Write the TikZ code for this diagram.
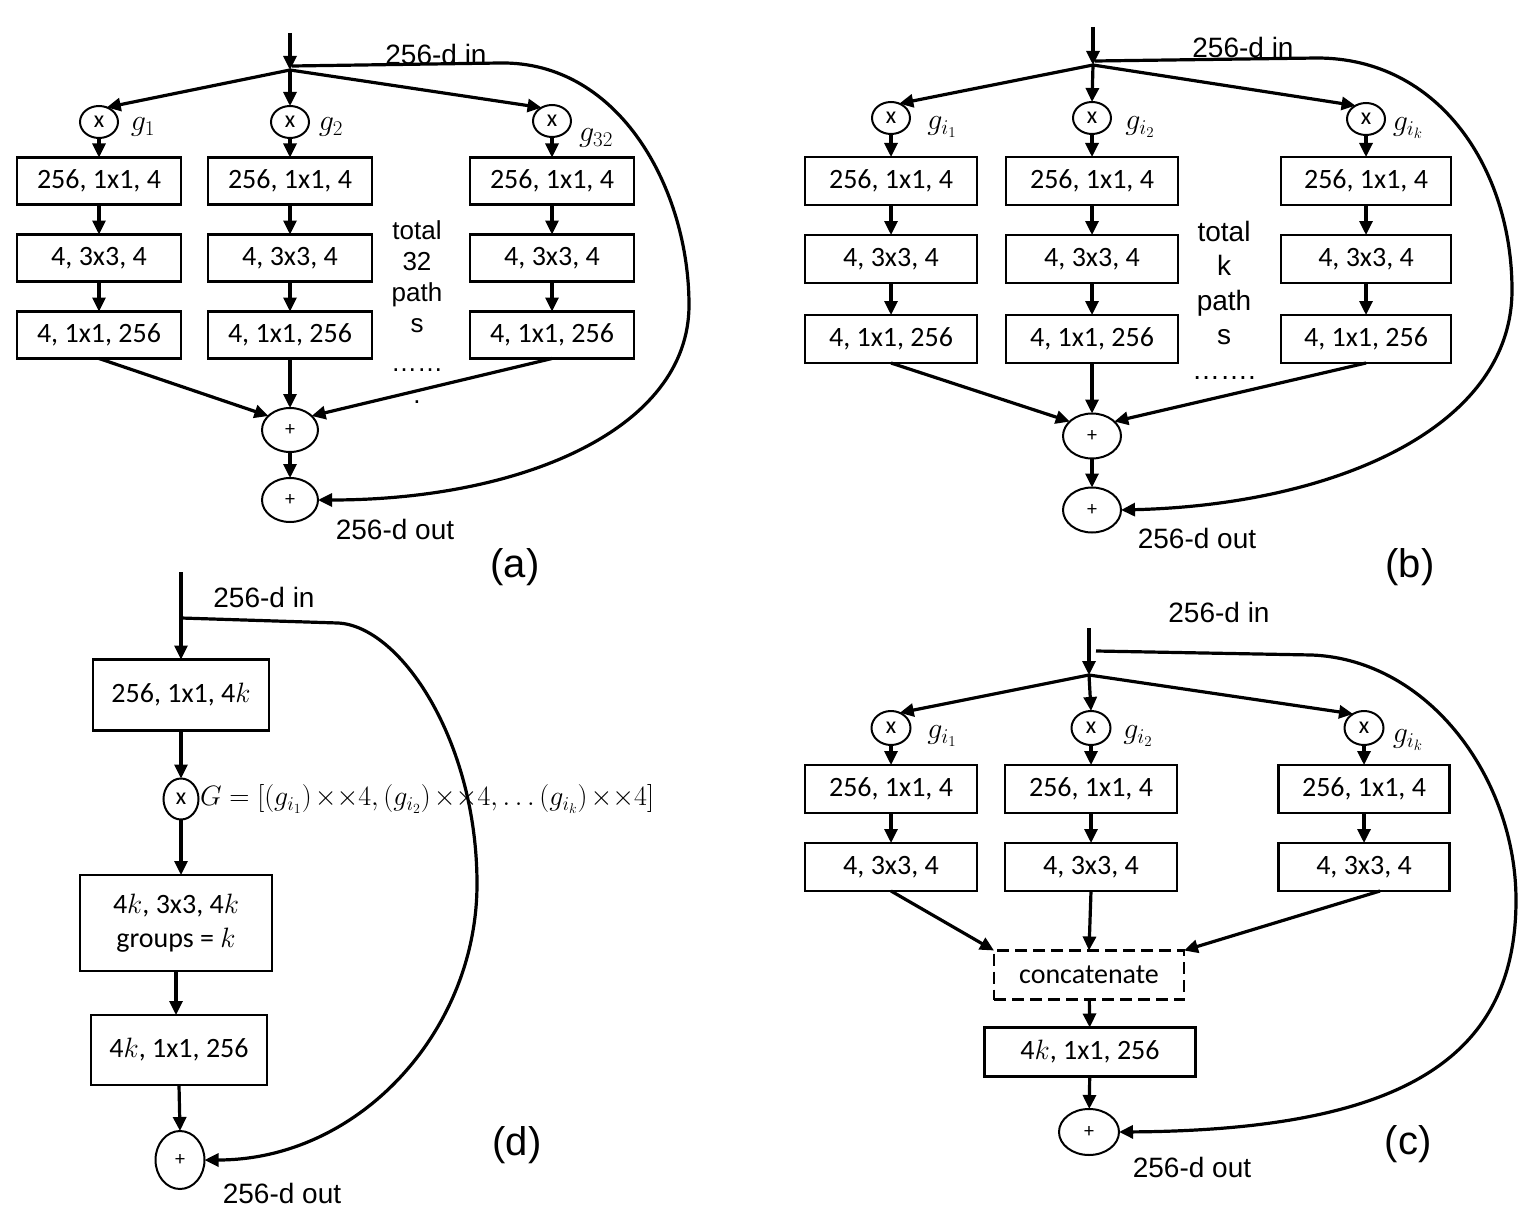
\RequirePackage{fix-cm}
\documentclass[tikz,border=0pt]{standalone}
\usepackage{fontspec}
\setmainfont{Carlito}
\newfontfamily\arialf{Liberation Sans}
\usetikzlibrary{arrows.meta,shapes.geometric}
\begin{document}
\begin{tikzpicture}[x=1pt,y=-1pt,
  every node/.style={inner sep=0pt,outer sep=0pt},
  box/.style={draw,line width=2.6pt,font=\fontsize{28}{34}\selectfont,align=center},
  wh/.style 2 args={minimum width=#1pt,minimum height=#2pt},
  mul/.style={draw,ellipse,line width=2pt,minimum width=38pt,minimum height=32pt,font=\fontsize{24}{28}\selectfont},
  plusop/.style={draw,ellipse,line width=2pt,minimum width=56pt,minimum height=44pt,font=\fontsize{20}{24}\selectfont},
  lab/.style={font=\arialf\fontsize{28}{32}\selectfont},
  tota/.style={font=\arialf\fontsize{26}{31}\selectfont,align=center},
  totb/.style={font=\arialf\fontsize{28}{34.5}\selectfont,align=center},
  pcap/.style={font=\arialf\fontsize{40}{44}\selectfont},
  gl/.style={font=\fontsize{30}{32}\selectfont},
  arr/.style={line width=3.2pt,-{Triangle[length=14pt,width=13pt]}},
  dashbox/.style={draw,line width=2.6pt,dash pattern=on 12pt off 6pt,font=\fontsize{28}{34}\selectfont},
]
\useasboundingbox (0,0) rectangle (1532,1212);

% ================= (a) =================
\coordinate (aT) at (290,33);
\coordinate (aJ) at (290,70);
\coordinate (aS) at (292,66);
\node[lab] (ain) at (436,54) {256-d in};
\node[mul] (ax1) at (99,122) {x};
\node[mul] (ax2) at (290,122) {x};
\node[mul] (ax3) at (552,121) {x};
\node[gl] (ag1) at (143,127) {$g_1$};
\node[gl] (ag2) at (331,127) {$g_2$};
\node[gl] (ag3) at (596,138) {$g_{32}$};
\node[box,wh={164}{47}] (a11) at (99,181) {256, 1x1, 4};
\node[box,wh={164}{47}] (a12) at (99,258) {4, 3x3, 4};
\node[box,wh={164}{47}] (a13) at (99,335) {4, 1x1, 256};
\node[box,wh={164}{47}] (a21) at (290,181) {256, 1x1, 4};
\node[box,wh={164}{47}] (a22) at (290,258) {4, 3x3, 4};
\node[box,wh={164}{47}] (a23) at (290,335) {4, 1x1, 256};
\node[box,wh={164}{47}] (a31) at (552,181) {256, 1x1, 4};
\node[box,wh={164}{47}] (a32) at (552,258) {4, 3x3, 4};
\node[box,wh={164}{47}] (a33) at (552,335) {4, 1x1, 256};
\node[tota] (atot) at (417,277) {total\\32\\path\\s};
\node[tota] (adots) at (417,370) {……};
\node[tota] (adot) at (417,402) {.};
\node[plusop] (ap1) at (290,430) {+};
\node[plusop] (ap2) at (290,500) {+};
\node[lab] (aout) at (395,529) {256-d out};
\node[pcap] (acap) at (515,567) {(a)};
\draw[arr] (aT) -- (aJ);
\draw[arr] (aJ) -- (ax1.62);
\draw[arr] (aJ) -- (ax2.north);
\draw[arr] (aJ) -- (ax3.128);
\foreach \c in {1,2,3}{
  \draw[arr] (ax\c) -- (a\c1);
  \draw[arr] (a\c1) -- (a\c2);
  \draw[arr] (a\c2) -- (a\c3);
}
\draw[arr] (a13.south) -- (ap1.147);
\draw[arr] (a23.south) -- (ap1.north);
\draw[arr] (a33.south) -- (ap1.33);
\draw[arr] (ap1) -- (ap2);
\draw[arr] (aS) -- (500,63) .. controls (620,61) and (689,190) .. (689,305)
  .. controls (689,430) and (520,500) .. (ap2.east);

% ================= (b) =================
\coordinate (bT) at (1093,27);
\coordinate (bJ) at (1093,65);
\coordinate (bS) at (1095,61);
\node[lab] (bin) at (1243,47) {256-d in};
\node[mul] (bx1) at (891,118) {x};
\node[mul] (bx2) at (1092,118) {x};
\node[mul] (bx3) at (1366,119) {x};
\node[gl] (bg1) at (942,127) {$g_{i_1}$};
\node[gl] (bg2) at (1140,127) {$g_{i_2}$};
\node[gl] (bg3) at (1408,128) {$g_{i_k}$};
\node[box,wh={172}{48}] (b11) at (891,181) {256, 1x1, 4};
\node[box,wh={172}{48}] (b12) at (891,259) {4, 3x3, 4};
\node[box,wh={172}{48}] (b13) at (891,339) {4, 1x1, 256};
\node[box,wh={172}{48}] (b21) at (1092,181) {256, 1x1, 4};
\node[box,wh={172}{48}] (b22) at (1092,259) {4, 3x3, 4};
\node[box,wh={172}{48}] (b23) at (1092,339) {4, 1x1, 256};
\node[box,wh={170}{48}] (b31) at (1366,181) {256, 1x1, 4};
\node[box,wh={170}{48}] (b32) at (1366,259) {4, 3x3, 4};
\node[box,wh={170}{48}] (b33) at (1366,339) {4, 1x1, 256};
\node[totb] (btot) at (1224,283) {total\\k\\path\\s};
\node[totb] (bdots) at (1224,378) {…….};
\node[plusop,minimum width=58pt,minimum height=45pt] (bp1) at (1092,436) {+};
\node[plusop,minimum width=58pt,minimum height=45pt] (bp2) at (1092,510) {+};
\node[lab] (bout) at (1197,538) {256-d out};
\node[pcap] (bcap) at (1410,567) {(b)};
\draw[arr] (bT) -- (bJ);
\draw[arr] (bJ) -- (bx1.60);
\draw[arr] (bJ) -- (bx2.north);
\draw[arr] (bJ) -- (bx3.128);
\foreach \c in {1,2,3}{
  \draw[arr] (bx\c) -- (b\c1);
  \draw[arr] (b\c1) -- (b\c2);
  \draw[arr] (b\c2) -- (b\c3);
}
\draw[arr] (b13.south) -- (bp1.147);
\draw[arr] (b23.south) -- (bp1.north);
\draw[arr] (b33.south) -- (bp1.33);
\draw[arr] (bp1) -- (bp2);
\draw[arr] (bS) -- (1317,58) .. controls (1440,58) and (1512,170) .. (1512,290)
  .. controls (1512,430) and (1330,505) .. (bp2.east);

% ================= (d) =================
\coordinate (dT) at (181,572);
\coordinate (dJ) at (181,618);
\node[lab] (din) at (264,597) {256-d in};
\node[box,wh={176}{71}] (d1) at (181,695) {256, 1x1, 4$k$};
\node[mul,minimum width=35pt,minimum height=41pt] (dx) at (181,799) {x};
\node[gl,anchor=west,font=\fontsize{28}{32}\selectfont] (dG) at (200,799) {$G=\bigl[(g_{i_1})\mkern2mu{\times}{\times}4,(g_{i_2})\mkern2mu{\times}{\times}4,\ldots(g_{i_k})\mkern2mu{\times}{\times}4\bigr]$};
\node[box,wh={192}{96}] (d2) at (176,923) {4$k$, 3x3, 4$k$\\groups = $k$};
\node[box,wh={176}{70}] (d3) at (179,1050) {4$k$, 1x1, 256};
\node[plusop,minimum width=49pt,minimum height=58pt] (dp) at (180,1160) {+};
\node[lab] (dout) at (282,1193) {256-d out};
\node[pcap] (dcap) at (517,1145) {(d)};
\draw[arr] (dT) -- (d1.north);
\draw[arr] (d1.south) -- (dx.north);
\draw[arr] (dx.south) -- (dx.south |- d2.north);
\draw[arr] (d2.south) -- (d2.south |- d3.north);
\draw[arr] (d3.south) -- (dp.north);
\draw[arr] (dJ) -- (338,623) .. controls (400,626) and (477,740) .. (477,884)
  .. controls (477,1030) and (360,1160) .. (dp.east);

% ================= (c) =================
\coordinate (cT) at (1089,628);
\coordinate (cJ) at (1089,675);
\coordinate (cS) at (1096,651);
\node[lab] (cin) at (1219,612) {256-d in};
\node[mul,minimum width=39pt,minimum height=34pt] (cx1) at (891,728) {x};
\node[mul,minimum width=39pt,minimum height=34pt] (cx2) at (1091,728) {x};
\node[mul,minimum width=39pt,minimum height=34pt] (cx3) at (1364,728) {x};
\node[gl] (cg1) at (942,736) {$g_{i_1}$};
\node[gl] (cg2) at (1138,736) {$g_{i_2}$};
\node[gl] (cg3) at (1408,740) {$g_{i_k}$};
\node[box,wh={172}{48}] (c11) at (891,789) {256, 1x1, 4};
\node[box,wh={172}{48}] (c12) at (891,867) {4, 3x3, 4};
\node[box,wh={172}{48}] (c21) at (1091,789) {256, 1x1, 4};
\node[box,wh={172}{48}] (c22) at (1091,867) {4, 3x3, 4};
\node[box,wh={171}{48}] (c31) at (1364,789) {256, 1x1, 4};
\node[box,wh={171}{48}] (c32) at (1364,867) {4, 3x3, 4};
\node[dashbox,wh={190}{49}] (ccat) at (1089,975) {concatenate};
\node[box,wh={211}{49}] (cfin) at (1090,1052) {4$k$, 1x1, 256};
\node[plusop,minimum width=60pt,minimum height=46pt] (cp) at (1089,1132) {+};
\node[lab] (cout) at (1192,1167) {256-d out};
\node[pcap] (ccap) at (1408,1144) {(c)};
\draw[arr] (cT) -- (cJ);
\draw[arr] (cJ) -- (cx1.60);
\draw[arr] (cJ) -- (cx2.north);
\draw[arr] (cJ) -- (cx3.128);
\foreach \c in {1,2,3}{
  \draw[arr] (cx\c) -- (c\c1);
  \draw[arr] (c\c1) -- (c\c2);
}
\draw[arr] (c12.south) -- (ccat.north west);
\draw[arr] (c22.south) -- (ccat.north);
\draw[arr] ([xshift=16pt]c32.south) -- (ccat.north east);
\draw[arr] (ccat) -- (cfin);
\draw[arr] (cfin) -- (cp);
\draw[arr] (cS) -- (1312,655) .. controls (1430,660) and (1516,780) .. (1516,900)
  .. controls (1516,1060) and (1400,1130) .. (cp.east);
\end{tikzpicture}
\end{document}
